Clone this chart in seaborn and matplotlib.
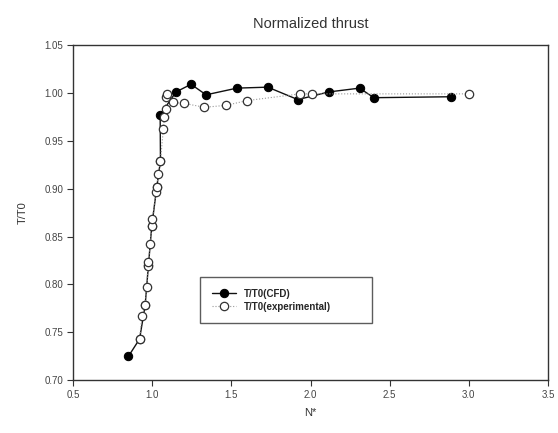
import matplotlib
matplotlib.use("Agg")
import matplotlib.pyplot as plt
import seaborn as sns
import pandas as pd

cfd_n = [0.85, 0.92, 0.955, 0.976, 0.997, 1.029, 1.052, 1.05, 1.15, 1.245, 1.34, 1.535,
         1.73, 1.92, 2.115, 2.31, 2.40, 2.89]
cfd_t = [0.725, 0.743, 0.778, 0.82, 0.861, 0.902, 0.929, 0.977, 1.001, 1.009, 0.998, 1.005,
         1.006, 0.993, 1.001, 1.005, 0.995, 0.996]

exp_n = [0.92, 0.935, 0.955, 0.965, 0.972, 0.976, 0.986, 0.997, 1.0, 1.024, 1.029, 1.036,
         1.052, 1.07, 1.077, 1.085, 1.087, 1.096, 1.134, 1.203, 1.33, 1.466, 1.60,
         1.934, 2.01, 3.0]
exp_t = [0.743, 0.767, 0.778, 0.797, 0.819, 0.823, 0.842, 0.861, 0.868, 0.896, 0.902, 0.915,
         0.929, 0.962, 0.975, 0.983, 0.996, 0.999, 0.990, 0.989, 0.985, 0.987, 0.992,
         0.999, 0.999, 0.999]

x_ticks = [0.5, 1.0, 1.5, 2.0, 2.5, 3.0, 3.5]
y_ticks = [0.70, 0.75, 0.80, 0.85, 0.90, 0.95, 1.00, 1.05]

sns.set_theme(style="ticks")
plt.rcParams['font.family'] = ['Liberation Sans', 'DejaVu Sans']

df_cfd = pd.DataFrame({"N": cfd_n, "T": cfd_t})
df_exp = pd.DataFrame({"N": exp_n, "T": exp_t})

fig = plt.figure(figsize=(5.58, 4.33), dpi=100)
ax = fig.add_axes([0.131, 0.122, 0.851, 0.774])

sns.lineplot(data=df_cfd, x="N", y="T", ax=ax, sort=False, color="#111111", lw=1.0,
             marker="o", markersize=6, markerfacecolor="black", markeredgecolor="black",
             label="T/T0(CFD)", zorder=3)
sns.lineplot(data=df_exp, x="N", y="T", ax=ax, sort=False, color="#9a9a9a", lw=0.8,
             linestyle=":", marker="o", markersize=6, markerfacecolor="white",
             markeredgecolor="#333333", markeredgewidth=0.9,
             label="T/T0(experimental)", zorder=4)

ax.set_xlim(0.5, 3.5)
ax.set_ylim(0.70, 1.05)
ax.set_xticks(x_ticks)
ax.set_xticklabels([f"{v:.1f}" for v in x_ticks])
ax.set_yticks(y_ticks)
ax.set_yticklabels([f"{v:.2f}" for v in y_ticks])
ax.tick_params(axis="both", direction="out", length=4, width=0.8, labelsize=7,
               colors="#333333", labelcolor="#444444", pad=3)
for s in ax.spines.values():
    s.set_color("#333333")
    s.set_linewidth(1.0)
    s.set_visible(True)

ax.set_xlabel("N*", fontsize=8, color="#333333", labelpad=6)
ax.set_ylabel("T/T0", fontsize=8, color="#333333", labelpad=12)
ax.set_title("Normalized thrust", fontsize=10.5, color="#333333", pad=12)

leg = ax.legend(loc="lower left", bbox_to_anchor=(0.267, 0.17, 0.363, 0.149), mode="expand",
                borderaxespad=0, frameon=True, fancybox=False, borderpad=1.2,
                handlelength=2.5, labelspacing=0.3, prop={"weight": "bold", "size": 7})
leg.get_frame().set_edgecolor("#333333")
leg.get_frame().set_linewidth(1.0)

fig.savefig("out.png", dpi=100)
